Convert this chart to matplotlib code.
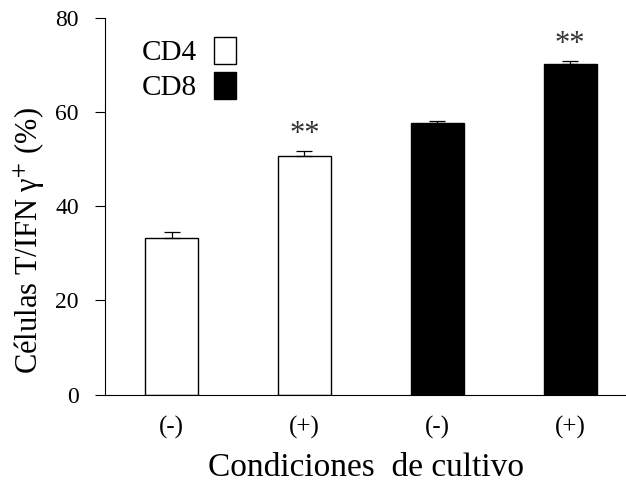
import numpy as np
import matplotlib.pyplot as plt

plt.rcParams['font.family'] = ['Liberation Serif', 'DejaVu Serif']
plt.rcParams['mathtext.fontset'] = 'stix'

# data
conditions = ['(-)', '(+)', '(-)', '(+)']
groups = ['CD4', 'CD4', 'CD8', 'CD8']
values = [33.3, 50.6, 57.7, 70.3]
errors = [1.3, 1.1, 0.5, 0.5]
signif = ['', '**', '', '**']

fig = plt.figure(figsize=(6.26, 4.83), dpi=100)
ax = fig.add_axes([0.168, 0.183, 0.832, 0.78])

x = np.arange(len(values))
colors = ['white' if g == 'CD4' else 'black' for g in groups]
bars = ax.bar(x, values, width=0.4, color=colors, edgecolor='black', linewidth=1.0)
# only the upper half of the error bar is visible
ax.errorbar(x, values, yerr=[[0] * len(errors), errors], fmt='none', ecolor='black',
            elinewidth=0.9, capsize=6, capthick=0.9)

for xi, v, e, s in zip(x, values, errors, signif):
    if s:
        ax.text(xi, v + e + 0.5, s, ha='center', va='bottom', fontsize=22, color='#333333')

ax.set_xlim(-0.5, 3.42)
ax.set_ylim(0, 80)
ax.set_yticks([0, 20, 40, 60, 80])
ax.set_xticks(x)
ax.set_xticklabels(conditions)
ax.tick_params(axis='y', direction='out', length=7, labelsize=17, pad=12)
ax.tick_params(axis='x', length=0, labelsize=18, pad=15)
ax.spines['top'].set_visible(False)
ax.spines['right'].set_visible(False)

ax.set_ylabel('Células T/IFN γ$^{+}$ (%)', fontsize=22)
ax.yaxis.set_label_coords(-0.112, 0.41)
ax.set_xlabel('Condiciones  de cultivo', fontsize=24, labelpad=10)

leg = ax.legend([bars[0], bars[2]], ['CD4', 'CD8'], loc='upper left', bbox_to_anchor=(0.02, 1.02),
                frameon=False, markerfirst=False, fontsize=21, handlelength=0.75, handleheight=1.05,
                handletextpad=0.6, labelspacing=0.2)

fig.savefig('out.png')
